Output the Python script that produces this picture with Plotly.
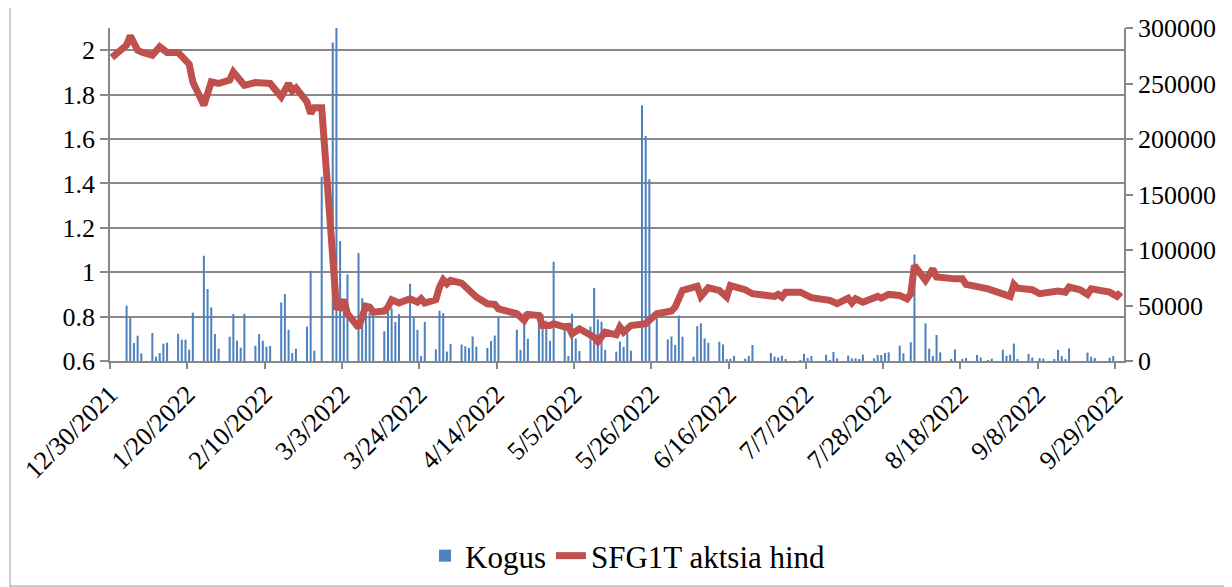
import pandas as pd
import plotly.graph_objects as go

# ---------------- data ----------------
bar_dates = [
    "2022-01-03", "2022-01-04", "2022-01-05", "2022-01-06", "2022-01-07",
    "2022-01-10", "2022-01-11", "2022-01-12", "2022-01-13", "2022-01-14",
    "2022-01-17", "2022-01-18", "2022-01-19", "2022-01-20", "2022-01-21",
    "2022-01-24", "2022-01-25", "2022-01-26", "2022-01-27", "2022-01-28",
    "2022-01-31", "2022-02-01", "2022-02-02", "2022-02-03", "2022-02-04",
    "2022-02-07", "2022-02-08", "2022-02-09", "2022-02-10", "2022-02-11",
    "2022-02-14", "2022-02-15", "2022-02-16", "2022-02-17", "2022-02-18",
    "2022-02-21", "2022-02-22", "2022-02-23", "2022-02-25",
    "2022-02-28", "2022-03-01", "2022-03-02", "2022-03-03", "2022-03-04",
    "2022-03-07", "2022-03-08", "2022-03-09", "2022-03-10", "2022-03-11",
    "2022-03-14", "2022-03-15", "2022-03-16", "2022-03-17", "2022-03-18",
    "2022-03-21", "2022-03-22", "2022-03-23", "2022-03-24", "2022-03-25",
    "2022-03-28", "2022-03-29", "2022-03-30", "2022-03-31", "2022-04-01",
    "2022-04-04", "2022-04-05", "2022-04-06", "2022-04-07", "2022-04-08",
    "2022-04-11", "2022-04-12", "2022-04-13", "2022-04-14",
    "2022-04-19", "2022-04-20", "2022-04-21", "2022-04-22",
    "2022-04-25", "2022-04-26", "2022-04-27", "2022-04-28", "2022-04-29",
    "2022-05-02", "2022-05-03", "2022-05-04", "2022-05-05", "2022-05-06",
    "2022-05-09", "2022-05-10", "2022-05-11", "2022-05-12", "2022-05-13",
    "2022-05-16", "2022-05-17", "2022-05-18", "2022-05-19", "2022-05-20",
    "2022-05-23", "2022-05-24", "2022-05-25", "2022-05-27",
    "2022-05-30", "2022-05-31", "2022-06-01", "2022-06-02", "2022-06-03",
    "2022-06-06", "2022-06-07", "2022-06-08", "2022-06-09", "2022-06-10",
    "2022-06-13", "2022-06-14", "2022-06-15", "2022-06-16", "2022-06-17",
    "2022-06-20", "2022-06-21", "2022-06-22",
    "2022-06-27", "2022-06-28", "2022-06-29", "2022-06-30", "2022-07-01",
    "2022-07-05", "2022-07-06", "2022-07-07", "2022-07-08",
    "2022-07-12", "2022-07-13", "2022-07-14", "2022-07-15",
    "2022-07-18", "2022-07-19", "2022-07-20", "2022-07-21", "2022-07-22",
    "2022-07-25", "2022-07-26", "2022-07-27", "2022-07-28", "2022-07-29",
    "2022-08-01", "2022-08-02", "2022-08-04", "2022-08-05",
    "2022-08-08", "2022-08-09", "2022-08-10", "2022-08-11", "2022-08-12",
    "2022-08-15", "2022-08-16", "2022-08-18", "2022-08-19",
    "2022-08-22", "2022-08-23", "2022-08-25", "2022-08-26",
    "2022-08-29", "2022-08-30", "2022-08-31", "2022-09-01", "2022-09-02",
    "2022-09-05", "2022-09-06", "2022-09-08", "2022-09-09",
    "2022-09-12", "2022-09-13", "2022-09-14", "2022-09-15", "2022-09-16",
    "2022-09-21", "2022-09-22", "2022-09-23", "2022-09-27", "2022-09-28",
]
volume = [
    49800, 38700, 16200, 22800, 6900,
    25200, 3900, 7200, 15600, 16500,
    24600, 19200, 19200, 10200, 43500,
    94800, 64800, 48300, 24300, 11100,
    21900, 42300, 18300, 12000, 42600,
    13800, 24300, 18300, 12900, 13500,
    52800, 60300, 28200, 7200, 11100,
    30900, 81300, 9300, 166000,
    287000, 300000, 108000, 50000, 78000,
    97200, 56500, 45500, 43500, 42000,
    26700, 44500, 47500, 35200, 42200,
    69600, 38700, 28000, 4400, 35200,
    10500, 45300, 43100, 8500, 15500,
    14800, 13200, 11800, 22100, 12900,
    11800, 18000, 22900, 39500,
    28200, 10000, 43700, 20000,
    41000, 42300, 36300, 18300, 89400,
    34200, 4500, 42600, 20200, 9000,
    31000, 65900, 37500, 35400, 10100,
    8400, 17500, 12900, 25000, 9300,
    230400, 202700, 163700, 38700,
    19500, 22100, 14400, 41000, 21900,
    3900, 31400, 34000, 20300, 16400,
    17400, 15000, 1200, 2000, 4600,
    2100, 4600, 14400,
    7200, 3900, 3200, 4800, 1300,
    600, 6400, 2700, 4500,
    5600, 900, 8200, 2400,
    4900, 2400, 2400, 1200, 5700,
    2400, 5400, 5400, 7200, 7800,
    13900, 6900, 17000, 95900,
    33900, 11100, 4500, 23400, 7800,
    1200, 10400, 1200, 2800,
    5400, 3200, 900, 2100,
    10200, 4700, 5700, 15700, 1200,
    6400, 3200, 2600, 2100,
    1400, 9900, 4400, 1000, 11400,
    7600, 3900, 2700, 3000, 4500,
]

line_dates = [
    "2021-12-30", "2022-01-03", "2022-01-04", "2022-01-06", "2022-01-07",
    "2022-01-10", "2022-01-12", "2022-01-14", "2022-01-17", "2022-01-19",
    "2022-01-20", "2022-01-21", "2022-01-24", "2022-01-26", "2022-01-28",
    "2022-01-31", "2022-02-01", "2022-02-04", "2022-02-07", "2022-02-11",
    "2022-02-14", "2022-02-16", "2022-02-17", "2022-02-18", "2022-02-21",
    "2022-02-22", "2022-02-23", "2022-02-25", "2022-02-28", "2022-03-01",
    "2022-03-02", "2022-03-03", "2022-03-04", "2022-03-07", "2022-03-09",
    "2022-03-10", "2022-03-11", "2022-03-14", "2022-03-15", "2022-03-16",
    "2022-03-18", "2022-03-21", "2022-03-23", "2022-03-24", "2022-03-25",
    "2022-03-28", "2022-03-29", "2022-03-30", "2022-03-31", "2022-04-01",
    "2022-04-04", "2022-04-08", "2022-04-11", "2022-04-13", "2022-04-14",
    "2022-04-19", "2022-04-21", "2022-04-22", "2022-04-25", "2022-04-26",
    "2022-04-28", "2022-04-29", "2022-05-02", "2022-05-03", "2022-05-04",
    "2022-05-06", "2022-05-10", "2022-05-11", "2022-05-13", "2022-05-16",
    "2022-05-17", "2022-05-18", "2022-05-20", "2022-05-24", "2022-05-27",
    "2022-05-31", "2022-06-01", "2022-06-03", "2022-06-07", "2022-06-08",
    "2022-06-10", "2022-06-13", "2022-06-15", "2022-06-16", "2022-06-20",
    "2022-06-22", "2022-06-28", "2022-06-29", "2022-06-30", "2022-07-01",
    "2022-07-05", "2022-07-07", "2022-07-08", "2022-07-13", "2022-07-15",
    "2022-07-18", "2022-07-19", "2022-07-20", "2022-07-22", "2022-07-26",
    "2022-07-27", "2022-07-29", "2022-08-01", "2022-08-03", "2022-08-04",
    "2022-08-05", "2022-08-08", "2022-08-10", "2022-08-11", "2022-08-16",
    "2022-08-18", "2022-08-19", "2022-08-23", "2022-08-25", "2022-08-31",
    "2022-09-01", "2022-09-02", "2022-09-06", "2022-09-08", "2022-09-12",
    "2022-09-13", "2022-09-15", "2022-09-16", "2022-09-19", "2022-09-21",
    "2022-09-22", "2022-09-27", "2022-09-29", "2022-09-30",
]
price = [
    1.967, 2.023, 2.065, 2.000, 1.992,
    1.977, 2.015, 1.990, 1.990, 1.947,
    1.937, 1.857, 1.752, 1.857, 1.850,
    1.865, 1.902, 1.842, 1.854, 1.850,
    1.790, 1.850, 1.817, 1.830, 1.767,
    1.715, 1.741, 1.741, 1.050, 0.843,
    0.840, 0.876, 0.813, 0.750, 0.847,
    0.843, 0.820, 0.825, 0.843, 0.876,
    0.861, 0.880, 0.865, 0.880, 0.861,
    0.876, 0.933, 0.966, 0.948, 0.963,
    0.951, 0.888, 0.858, 0.855, 0.835,
    0.813, 0.783, 0.810, 0.805, 0.760,
    0.760, 0.768, 0.753, 0.756, 0.722,
    0.745, 0.707, 0.688, 0.730, 0.718,
    0.753, 0.730, 0.760, 0.768, 0.813,
    0.825, 0.843, 0.918, 0.937, 0.891,
    0.930, 0.918, 0.888, 0.940, 0.921,
    0.903, 0.891, 0.900, 0.888, 0.910,
    0.910, 0.888, 0.885, 0.873, 0.858,
    0.883, 0.862, 0.880, 0.865, 0.891,
    0.883, 0.900, 0.895, 0.880, 0.903,
    1.030, 0.963, 1.015, 0.978, 0.970,
    0.970, 0.945, 0.933, 0.925, 0.891,
    0.945, 0.928, 0.921, 0.903, 0.910,
    0.915, 0.910, 0.933, 0.921, 0.900,
    0.925, 0.910, 0.891, 0.910,
]

tick_dates = [
    "2021-12-30", "2022-01-20", "2022-02-10", "2022-03-03", "2022-03-24",
    "2022-04-14", "2022-05-05", "2022-05-26", "2022-06-16", "2022-07-07",
    "2022-07-28", "2022-08-18", "2022-09-08", "2022-09-29",
]
tick_labels = [
    "12/30/2021", "1/20/2022", "2/10/2022", "3/3/2022", "3/24/2022",
    "4/14/2022", "5/5/2022", "5/26/2022", "6/16/2022", "7/7/2022",
    "7/28/2022", "8/18/2022", "9/8/2022", "9/29/2022",
]
price_ticks = [0.6, 0.8, 1.0, 1.2, 1.4, 1.6, 1.8, 2.0]
volume_ticks = [0, 50000, 100000, 150000, 200000, 250000, 300000]

# ---------------- figure ----------------
FONT = "Liberation Serif, Times New Roman, serif"
GRID = "#888888"
half_day = pd.Timedelta(hours=12)   # Excel draws date-axis points mid-day
bx = pd.to_datetime(bar_dates) + half_day
lx = pd.to_datetime(line_dates) + half_day

fig = go.Figure()
fig.add_trace(go.Bar(
    x=bx, y=volume, name="Kogus", yaxis="y",
    marker=dict(color="#4F81BD", line=dict(width=0)),
    width=0.55 * 86400000,
))
fig.add_trace(go.Scatter(
    x=lx, y=price, name="SFG1T aktsia hind", yaxis="y2", mode="lines",
    line=dict(color="#C0504D", width=7),
))

# the page body has an 8px margin, so the figure is 8px smaller than the window
OFF = 8
W, H = 1232 - OFF, 587 - OFF
# target plot area in page pixels: x 110..1124, y 28..361
L, T = 110 - OFF, 28 - OFF
R, B = (OFF + W) - 1124, (OFF + H) - 361
pw, ph = W - L - R, H - T - B


def py(pix):
    """page pixel row -> paper y"""
    return (OFF + T + ph - pix) / ph


def px(pix):
    """page pixel column -> paper x"""
    return (pix - OFF - L) / pw


border = dict(type="line", xref="paper", yref="paper",
              line=dict(color="#9a9a9a", width=1), layer="below")

fig.update_layout(
    width=W, height=H,
    margin=dict(l=L, r=R, t=T, b=B, autoexpand=False),
    paper_bgcolor="white", plot_bgcolor="white",
    font=dict(family=FONT, size=26, color="black"),
    showlegend=True,
    legend=dict(orientation="h", x=px(628), xanchor="center",
                y=py(556), yanchor="middle",
                font=dict(size=31, family=FONT), traceorder="normal",
                bgcolor="rgba(0,0,0,0)"),
    xaxis=dict(
        type="date", range=["2021-12-30", "2022-10-01 10:00"],
        tickvals=tick_dates, ticktext=tick_labels, tickangle=-45,
        ticks="outside", ticklen=6, tickcolor=GRID, tickwidth=1.5,
        showline=True, linecolor=GRID, linewidth=1.5,
        showgrid=False, zeroline=False, automargin=False,
        tickfont=dict(size=26, family=FONT),
    ),
    yaxis=dict(
        side="right", range=[0, 300000], tickvals=volume_ticks,
        tickformat="d", ticks="outside", ticklen=7, tickcolor=GRID,
        tickwidth=1.5, showline=True, linecolor=GRID, linewidth=1.5,
        showgrid=False, zeroline=False, automargin=False,
        tickfont=dict(size=26, family=FONT),
    ),
    yaxis2=dict(
        overlaying="y", side="left", range=[0.6, 2.1], tickvals=price_ticks,
        ticks="outside", ticklen=8, tickcolor=GRID, tickwidth=1.5,
        showline=True, linecolor=GRID, linewidth=1.5,
        showgrid=True, gridcolor=GRID, gridwidth=1.5, zeroline=False,
        automargin=False,
        tickfont=dict(size=26, family=FONT),
    ),
    shapes=[
        dict(border, x0=px(10), x1=px(10), y0=py(587), y1=py(OFF)),
        dict(border, x0=px(10), x1=px(1231), y0=py(586), y1=py(586)),
    ],
)

fig.write_html("out.html")
